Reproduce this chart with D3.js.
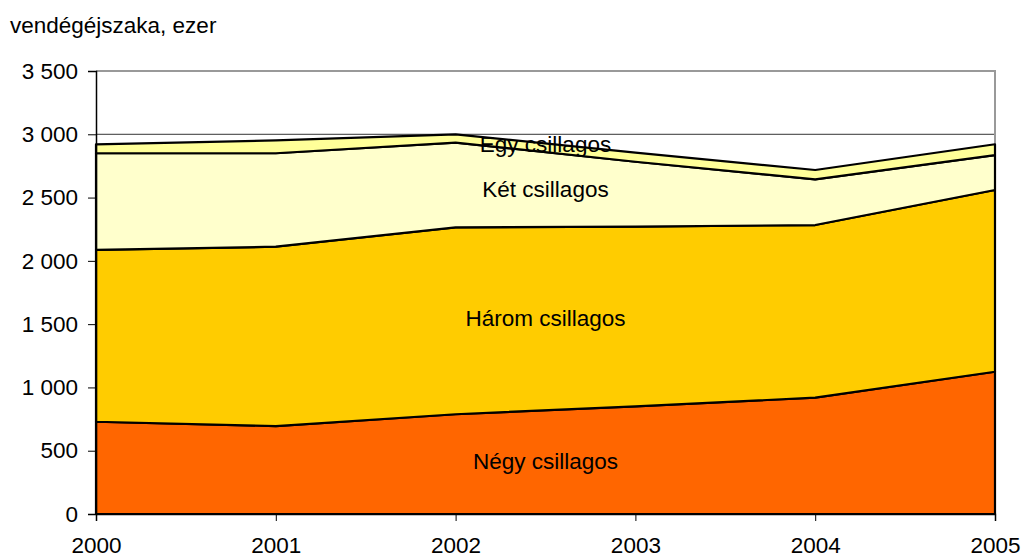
<!DOCTYPE html>
<html>
<head>
<meta charset="utf-8">
<script src="https://cdn.jsdelivr.net/npm/d3@7"></script>
<style>
  body { margin: 0; background: #fff; }
  svg { font-family: Arial, "Liberation Sans", sans-serif; }
</style>
</head>
<body>
<svg width="1023" height="558"></svg>
<script>
// years and values (ezer vendégéjszaka)
var years = [2000, 2001, 2002, 2003, 2004, 2005];
var negy  = [729, 695, 788, 851, 919, 1124];
var harom = [1357, 1417, 1477, 1419, 1364, 1436];
var ket   = [764, 738, 669, 513, 361, 276];
var egy   = [71, 102, 66, 72, 74, 85];

var keys   = ['negy', 'harom', 'ket', 'egy'];
var labels = ['Négy csillagos', 'Három csillagos', 'Két csillagos', 'Egy csillagos'];
var colors = ['#FF6600', '#FFCC00', '#FFFFCC', '#FFFF99'];
var yTicks = [0, 500, 1000, 1500, 2000, 2500, 3000, 3500];

var rows = years.map(function(y, i) {
  return { year: y, negy: negy[i], harom: harom[i], ket: ket[i], egy: egy[i] };
});

var svg = d3.select('svg');
var pLeft = 96, pRight = 995, pTop = 71, pBottom = 514;
var fs = 22.5;

var x = d3.scaleLinear().domain([2000, 2005]).range([pLeft, pRight]);
var y = d3.scaleLinear().domain([0, 3500]).range([pBottom, pTop]);

var fmt = function(d) { return d3.format(',')(d).replace(/,/g, ' '); };

// title
svg.append('text')
  .attr('x', 10).attr('y', 33)
  .attr('font-size', fs)
  .text('vendégéjszaka, ezer');

// gridlines
svg.append('g').selectAll('line')
  .data(yTicks.filter(function(d) { return d > 0 && d < 3500; }))
  .enter().append('line')
  .attr('x1', pLeft).attr('x2', pRight)
  .attr('y1', function(d) { return y(d); })
  .attr('y2', function(d) { return y(d); })
  .attr('stroke', '#333').attr('stroke-width', 1);

// frame (top & right)
svg.append('path')
  .attr('d', 'M' + pLeft + ',' + pTop + 'H' + pRight + 'V' + pBottom)
  .attr('fill', 'none').attr('stroke', '#999').attr('stroke-width', 2);

// stacked areas
var series = d3.stack().keys(keys)(rows);
var area = d3.area()
  .x(function(d) { return x(d.data.year); })
  .y0(function(d) { return y(d[0]); })
  .y1(function(d) { return y(d[1]); });

svg.append('g').selectAll('path')
  .data(series)
  .enter().append('path')
  .attr('d', area)
  .attr('fill', function(d, i) { return colors[i]; })
  .attr('stroke', '#000')
  .attr('stroke-width', 2.2)
  .attr('stroke-linejoin', 'round');

// axes
var yAxis = svg.append('g')
  .attr('transform', 'translate(' + pLeft + ',0)')
  .call(d3.axisLeft(y).tickValues(yTicks).tickFormat(fmt).tickSize(8).tickPadding(10));
yAxis.select('.domain').attr('stroke', '#000').attr('stroke-width', 1.5);
yAxis.selectAll('text').attr('font-size', fs).attr('font-family', 'Arial, "Liberation Sans", sans-serif').attr('fill', '#000');

var xAxis = svg.append('g')
  .attr('transform', 'translate(0,' + pBottom + ')')
  .call(d3.axisBottom(x).tickValues(years).tickFormat(d3.format('d')).tickSize(7).tickPadding(16));
xAxis.select('.domain').attr('stroke', '#000').attr('stroke-width', 1.5);
xAxis.selectAll('text').attr('font-size', fs).attr('font-family', 'Arial, "Liberation Sans", sans-serif').attr('fill', '#000');

// series labels
var labelY = [469, 326, 197, 152];
svg.append('g').selectAll('text')
  .data(labels)
  .enter().append('text')
  .attr('x', (pLeft + pRight) / 2)
  .attr('y', function(d, i) { return labelY[i]; })
  .attr('text-anchor', 'middle')
  .attr('font-size', fs)
  .text(function(d) { return d; });
</script>
</body>
</html>
